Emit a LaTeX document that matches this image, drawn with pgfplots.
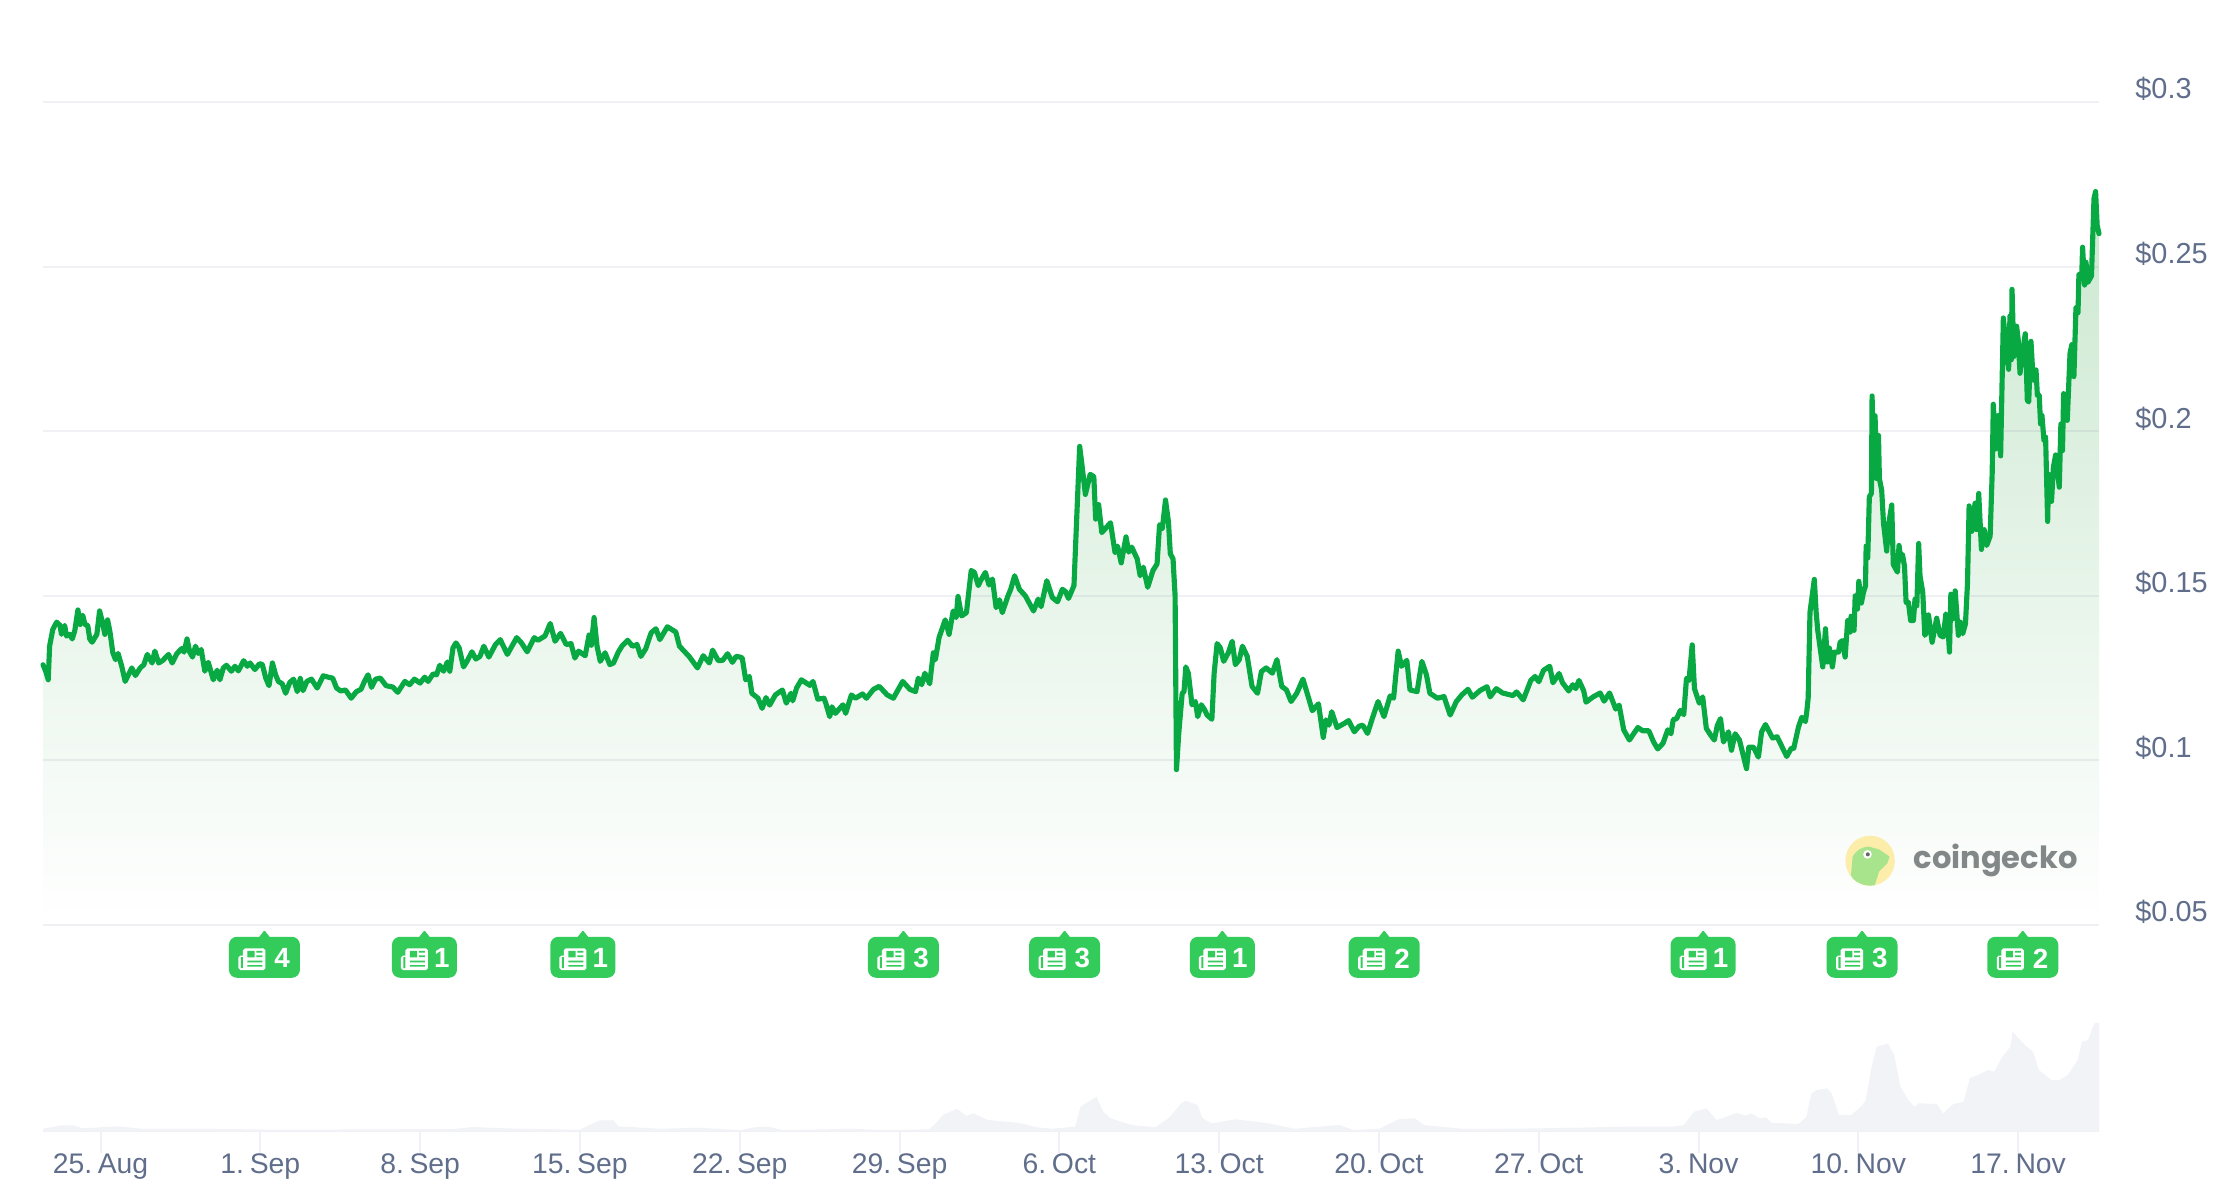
\documentclass[border=0pt]{standalone}
\usepackage{fontspec}
\setmainfont{Liberation Sans}
\newfontfamily\logofont{Poppins}
\usepackage{pgfplots}
\usepackage{pgfplotstable}
\pgfplotsset{compat=1.18}
\definecolor{cgline}{RGB}{8,168,67}
\definecolor{cgtop}{RGB}{203,232,208}
\definecolor{cggrid}{RGB}{90,90,140}
\definecolor{cggridsolid}{RGB}{240,240,246}
\definecolor{cgvol}{RGB}{241,243,247}
\definecolor{cgtext}{RGB}{96,110,140}
\definecolor{cgbadge}{RGB}{51,204,91}
\definecolor{cgyellow}{RGB}{253,237,170}
\definecolor{cggecko}{RGB}{168,228,140}
\definecolor{cglogo}{RGB}{130,135,135}
\def\newsicon{%
  \pgfsetfillcolor{white}%
  \pgfsetcornersarced{\pgfpoint{0.7pt}{0.7pt}}%
  \pgfpathrectangle{\pgfpoint{-7.74pt}{-4.6pt}}{\pgfpoint{8.1pt}{7.8pt}}%
  \pgfpathrectangle{\pgfpoint{-9.36pt}{-4.6pt}}{\pgfpoint{3pt}{5.2pt}}%
  \pgfusepath{fill}%
  \pgfsetcornersarced{\pgfpointorigin}%
  \pgfsetfillcolor{cgbadge}%
  \pgfpathrectangle{\pgfpoint{-8.5pt}{-3.9pt}}{\pgfpoint{0.75pt}{4pt}}%
  \pgfpathrectangle{\pgfpoint{-6.12pt}{0pt}}{\pgfpoint{2.6pt}{2.34pt}}%
  \pgfpathrectangle{\pgfpoint{-2.88pt}{1.7pt}}{\pgfpoint{2.16pt}{0.6pt}}%
  \pgfpathrectangle{\pgfpoint{-2.88pt}{0.1pt}}{\pgfpoint{2.16pt}{0.6pt}}%
  \pgfpathrectangle{\pgfpoint{-6.12pt}{-1.8pt}}{\pgfpoint{5.4pt}{0.6pt}}%
  \pgfpathrectangle{\pgfpoint{-6.12pt}{-3.4pt}}{\pgfpoint{5.4pt}{0.6pt}}%
  \pgfusepath{fill}%
}
\def\newsnotch{%
  \pgfpathmoveto{\pgfpoint{-1.9pt}{7.3pt}}%
  \pgfpathlineto{\pgfpoint{-0.25pt}{9.4pt}}%
  \pgfpathlineto{\pgfpoint{0.25pt}{9.4pt}}%
  \pgfpathlineto{\pgfpoint{1.9pt}{7.3pt}}%
  \pgfpathclose
  \pgfusepath{fill}%
}
\pgfdeclareplotmark{newswide}{%
  \pgfsetfillcolor{cgbadge}%
  \newsnotch
  \pgfsetcornersarced{\pgfpoint{2.9pt}{2.9pt}}%
  \pgfpathrectangle{\pgfpoint{-12.78pt}{-7.38pt}}{\pgfpoint{25.56pt}{14.76pt}}%
  \pgfusepath{fill}%
  \newsicon
}
\pgfdeclareplotmark{newsnarrow}{%
  \pgfsetfillcolor{cgbadge}%
  \newsnotch
  \pgfsetcornersarced{\pgfpoint{2.9pt}{2.9pt}}%
  \pgfpathrectangle{\pgfpoint{-11.7pt}{-7.38pt}}{\pgfpoint{23.4pt}{14.76pt}}%
  \pgfusepath{fill}%
  \pgftransformxshift{0.9pt}%
  \newsicon
}
% day 0 = 25 Aug; price in USD
\pgfplotstableread{
day price
-2.52 .1291
-2.40 .1271
-2.29 .1245
-2.23 .1347
-2.09 .1398
-1.92 .1420
-1.77 .1410
-1.71 .1383
-1.57 .1410
-1.49 .1378
-1.34 .1383
-1.24 .1369
-1.13 .1393
-0.99 .1457
-0.89 .1413
-0.78 .1441
-0.68 .1413
-0.56 .1410
-0.47 .1369
-0.37 .1359
-0.16 .1383
-0.04 .1454
0.09 .1418
0.19 .1383
0.31 .1427
0.42 .1388
0.54 .1327
0.66 .1306
0.77 .1325
0.93 .1286
1.08 .1240
1.22 .1260
1.37 .1281
1.53 .1258
1.74 .1281
1.90 .1291
2.05 .1322
2.26 .1296
2.38 .1332
2.55 .1296
2.73 .1304
2.98 .1322
3.14 .1296
3.35 .1325
3.56 .1340
3.66 .1329
3.79 .1369
3.91 .1329
4.03 .1314
4.16 .1347
4.28 .1325
4.41 .1337
4.57 .1271
4.72 .1298
4.94 .1245
5.11 .1274
5.23 .1245
5.38 .1281
5.52 .1289
5.73 .1271
5.89 .1286
6.04 .1272
6.27 .1303
6.43 .1286
6.55 .1296
6.76 .1276
6.97 .1294
7.09 .1291
7.24 .1250
7.38 .1227
7.53 .1296
7.67 .1260
7.79 .1240
7.96 .1233
8.11 .1204
8.29 .1237
8.46 .1247
8.62 .1209
8.75 .1249
8.87 .1212
9.04 .1240
9.24 .1247
9.49 .1220
9.76 .1257
9.97 .1253
10.17 .1250
10.34 .1220
10.52 .1211
10.73 .1214
10.98 .1189
11.21 .1209
11.41 .1216
11.56 .1240
11.72 .1260
11.87 .1222
12.05 .1247
12.26 .1250
12.51 .1227
12.80 .1223
13.02 .1207
13.33 .1240
13.54 .1230
13.75 .1247
14.00 .1235
14.20 .1253
14.35 .1240
14.57 .1263
14.72 .1260
14.86 .1289
15.03 .1271
15.19 .1299
15.30 .1271
15.44 .1342
15.57 .1357
15.71 .1342
15.90 .1284
16.06 .1302
16.27 .1330
16.44 .1308
16.62 .1316
16.79 .1347
17.01 .1314
17.30 .1352
17.51 .1367
17.82 .1322
18.23 .1373
18.44 .1357
18.69 .1330
19.00 .1373
19.16 .1365
19.47 .1378
19.70 .1416
19.91 .1362
20.15 .1386
20.40 .1352
20.61 .1355
20.78 .1311
20.94 .1332
21.23 .1318
21.40 .1381
21.50 .1350
21.62 .1434
21.75 .1347
21.89 .1301
22.10 .1327
22.31 .1291
22.47 .1296
22.68 .1329
22.84 .1347
23.09 .1365
23.30 .1347
23.50 .1352
23.67 .1316
23.88 .1339
24.12 .1388
24.33 .1400
24.50 .1367
24.83 .1406
25.20 .1390
25.36 .1347
25.78 .1316
26.15 .1281
26.40 .1318
26.67 .1296
26.81 .1335
27.06 .1303
27.25 .1304
27.47 .1324
27.68 .1298
27.84 .1316
28.01 .1314
28.11 .1311
28.26 .1245
28.42 .1255
28.53 .1204
28.80 .1189
28.98 .1158
29.15 .1191
29.31 .1168
29.56 .1199
29.87 .1214
30.04 .1174
30.24 .1204
30.32 .1181
30.49 .1220
30.70 .1245
31.07 .1228
31.21 .1240
31.42 .1186
31.69 .1189
31.77 .1174
31.94 .1133
32.04 .1163
32.19 .1143
32.52 .1169
32.64 .1143
32.89 .1199
33.07 .1189
33.38 .1202
33.55 .1189
33.86 .1216
34.11 .1225
34.46 .1199
34.73 .1189
35.14 .1240
35.45 .1216
35.70 .1209
35.82 .1250
35.97 .1230
36.11 .1265
36.32 .1233
36.48 .1327
36.57 .1306
36.73 .1373
37.00 .1427
37.17 .1383
37.35 .1454
37.48 .1434
37.56 .1498
37.72 .1439
37.93 .1449
38.14 .1577
38.28 .1571
38.45 .1531
38.55 .1546
38.76 .1571
38.92 .1533
39.07 .1551
39.23 .1464
39.38 .1488
39.50 .1449
39.75 .1500
39.87 .1520
40.04 .1561
40.25 .1520
40.51 .1500
40.87 .1454
41.07 .1490
41.20 .1467
41.45 .1546
41.69 .1495
41.92 .1482
42.13 .1520
42.27 .1513
42.40 .1492
42.64 .1531
42.75 .1719
42.89 .1954
42.99 .1898
43.14 .1808
43.35 .1869
43.51 .1862
43.59 .1733
43.72 .1777
43.86 .1692
44.24 .1722
44.44 .1631
44.55 .1651
44.71 .1600
44.92 .1679
45.04 .1633
45.17 .1648
45.41 .1612
45.54 .1561
45.68 .1587
45.87 .1526
46.10 .1577
46.28 .1597
46.39 .1716
46.51 .1704
46.65 .1791
46.78 .1724
46.86 .1628
46.98 .1612
47.07 .1500
47.13 .0972
47.23 .1082
47.38 .1204
47.46 .1209
47.54 .1284
47.65 .1265
47.81 .1169
47.96 .1179
48.06 .1133
48.22 .1169
48.37 .1153
48.47 .1138
48.68 .1125
48.78 .1265
48.91 .1355
49.05 .1342
49.20 .1301
49.40 .1327
49.57 .1362
49.71 .1291
49.88 .1306
50.02 .1347
50.23 .1316
50.44 .1225
50.68 .1204
50.85 .1270
51.06 .1281
51.33 .1265
51.53 .1306
51.74 .1225
51.95 .1214
52.15 .1179
52.40 .1204
52.50 .1220
52.67 .1247
52.92 .1189
53.08 .1151
53.35 .1172
53.56 .1070
53.68 .1123
53.81 .1107
53.93 .1148
54.16 .1100
54.47 .1112
54.67 .1121
54.92 .1087
55.13 .1104
55.29 .1107
55.50 .1082
55.71 .1128
55.96 .1179
56.22 .1133
56.49 .1196
56.64 .1189
56.84 .1332
56.99 .1286
57.22 .1304
57.36 .1214
57.67 .1209
57.88 .1301
58.08 .1260
58.23 .1204
58.56 .1189
58.85 .1194
59.12 .1138
59.39 .1179
59.63 .1199
59.90 .1216
60.09 .1192
60.42 .1212
60.73 .1224
60.87 .1193
61.14 .1218
61.41 .1205
61.87 .1197
62.03 .1208
62.32 .1184
62.65 .1243
62.84 .1255
63.00 .1239
63.21 .1274
63.48 .1286
63.62 .1236
63.89 .1264
64.04 .1236
64.31 .1211
64.49 .1230
64.62 .1218
64.76 .1243
64.97 .1211
65.07 .1177
65.38 .1193
65.69 .1205
65.86 .1180
66.10 .1205
66.37 .1156
66.52 .1168
66.72 .1093
66.97 .1062
67.34 .1100
67.55 .1090
67.82 .1090
68.03 .1056
68.21 .1035
68.44 .1052
68.65 .1093
68.79 .1081
68.89 .1124
69.04 .1127
69.20 .1152
69.35 .1139
69.47 .1249
69.58 .1243
69.72 .1351
69.82 .1218
70.03 .1174
70.18 .1193
70.34 .1097
70.55 .1075
70.69 .1062
70.82 .1106
70.96 .1127
71.09 .1056
71.31 .1087
71.44 .1031
71.60 .1081
71.79 .1062
72.10 .0975
72.20 .1040
72.41 .1040
72.62 .1010
72.76 .1087
72.93 .1109
73.24 .1068
73.44 .1072
73.86 .1012
74.06 .1037
74.17 .1037
74.37 .1100
74.52 .1131
74.68 .1118
74.74 .1149
74.80 .1189
74.88 .1450
75.07 .1550
75.15 .1450
75.22 .1395
75.35 .1329
75.44 .1284
75.56 .1400
75.64 .1299
75.73 .1341
75.86 .1284
75.95 .1329
76.13 .1329
76.20 .1359
76.30 .1364
76.42 .1314
76.53 .1425
76.64 .1390
76.68 .1438
76.81 .1395
76.86 .1500
76.96 .1460
77.02 .1544
77.13 .1478
77.22 .1510
77.31 .1530
77.34 .1651
77.41 .1615
77.48 .1801
77.57 .1811
77.60 .2107
77.67 .1887
77.73 .2047
77.80 .1856
77.88 .1987
77.92 .1856
78.02 .1821
78.10 .1721
78.24 .1636
78.32 .1716
78.46 .1776
78.53 .1595
78.71 .1572
78.78 .1653
78.86 .1610
78.93 .1626
79.02 .1590
79.09 .1480
79.19 .1480
79.29 .1425
79.41 .1425
79.48 .1490
79.56 .1470
79.64 .1659
79.70 .1560
79.82 .1510
79.91 .1380
79.99 .1390
80.07 .1442
80.23 .1359
80.43 .1432
80.58 .1380
80.72 .1375
80.83 .1445
80.90 .1432
80.99 .1329
81.05 .1505
81.13 .1430
81.24 .1515
81.38 .1380
81.47 .1420
81.57 .1385
81.69 .1415
81.78 .1540
81.85 .1773
81.97 .1696
82.11 .1781
82.18 .1701
82.27 .1811
82.39 .1641
82.51 .1701
82.62 .1653
82.77 .1681
82.86 .1871
82.91 .2082
83.01 .1946
83.14 .2048
83.23 .1925
83.35 .2344
83.49 .2237
83.58 .2188
83.64 .2350
83.70 .2217
83.73 .2431
83.81 .2227
83.93 .2319
84.00 .2278
84.08 .2176
84.16 .2227
84.31 .2296
84.40 .2094
84.46 .2089
84.56 .2273
84.63 .2186
84.69 .2155
84.78 .2186
84.84 .2109
84.92 .2109
84.98 .2022
85.04 .2048
85.13 .1971
85.20 .1982
85.29 .1726
85.33 .1869
85.46 .1787
85.54 .1890
85.64 .1928
85.80 .1830
85.87 .2022
85.94 .1941
85.99 .2114
86.15 .2033
86.27 .2237
86.35 .2263
86.44 .2166
86.53 .2375
86.62 .2360
86.66 .2477
86.78 .2462
86.82 .2559
86.91 .2444
86.97 .2513
87.05 .2452
87.21 .2472
87.32 .2707
87.39 .2728
87.46 .2625
87.54 .2600
}\pricetable
% volume, relative scale
\pgfplotstableread{
day vol
-2.52 2.3
-1.71 5.7
-1.20 5.7
-0.78 2.7
0.77 4.7
1.80 2.3
5.52 2.0
8.00 1.3
15.44 2.0
16.27 4.0
18.30 2.3
21.00 1.3
21.54 7.3
21.85 10.7
22.47 10.7
22.68 4.7
24.54 2.3
26.20 3.3
28.01 1.0
28.63 3.7
29.25 4.3
29.87 1.0
31.73 1.7
32.97 2.3
34.21 1.0
36.28 1.7
36.59 7.7
36.90 16.0
37.52 22.3
37.93 15.0
38.24 17.7
38.86 11.0
40.20 8.3
41.03 3.7
41.65 2.3
42.69 4.3
42.93 24.3
43.62 34.3
43.93 19.3
44.24 12.7
45.17 6.0
46.20 3.7
46.82 13.7
47.34 27.7
47.54 30.3
48.06 26.0
48.27 12.7
48.68 7.7
49.71 11.7
51.16 7.7
52.30 2.3
54.26 6.0
54.88 1.0
56.02 2.3
56.84 11.7
57.57 12.7
57.98 6.0
59.63 2.3
60.42 2.0
63.10 2.7
66.68 4.3
68.82 4.3
69.36 6.0
69.81 19.3
70.34 22.7
70.79 11.0
71.15 13.7
71.68 18.3
72.04 15.3
72.31 17.7
72.67 12.7
72.94 13.7
73.20 8.3
74.37 7.0
74.72 14.3
74.94 37.7
75.17 41.0
75.62 42.7
75.83 37.7
76.15 16.0
76.69 16.0
77.14 25.0
77.32 31.0
77.58 64.3
77.80 84.3
78.30 87.7
78.57 76.0
78.84 44.3
79.19 31.0
79.46 24.3
79.64 27.7
80.44 27.0
80.71 17.7
81.16 27.0
81.61 29.3
81.88 52.7
82.23 56.0
82.68 61.0
82.95 59.3
83.31 74.3
83.66 84.3
83.75 99.3
84.29 86.0
84.65 79.3
84.91 61.0
85.45 51.0
85.81 51.0
86.17 56.0
86.61 71.0
86.79 89.3
87.06 91.0
87.33 107.7
87.54 108.3
}\voltable
\begin{document}
\begin{tikzpicture}
\path[use as bounding box] (0pt,0pt) rectangle (799.2pt,-432pt);
% volume panel
\begin{axis}[
  at={(15.48pt,-407.16pt)}, anchor=south west,
  scale only axis, width=740.16pt, height=47.16pt,
  xmin=-2.519, xmax=87.54, ymin=0, ymax=131,
  axis y line=none, axis x line=bottom,
  axis line style={draw=cggridsolid, line width=0.72pt, -},
  xtick={0,7,14,21,28,35,42,49,56,63,70,77,84},
  xticklabels={25.\hspace{0.2em}Aug,1.\hspace{0.2em}Sep,8.\hspace{0.2em}Sep,15.\hspace{0.2em}Sep,22.\hspace{0.2em}Sep,29.\hspace{0.2em}Sep,6.\hspace{0.2em}Oct,13.\hspace{0.2em}Oct,20.\hspace{0.2em}Oct,27.\hspace{0.2em}Oct,3.\hspace{0.2em}Nov,10.\hspace{0.2em}Nov,17.\hspace{0.2em}Nov},
  major tick length=7.9pt, tick align=outside,
  x tick style={draw=cggridsolid, line width=0.72pt},
  xticklabel style={font=\fontsize{10.2}{12}\selectfont, text=cgtext, inner sep=0pt, yshift=-0.2pt},
]
\addplot[draw=none, fill=cgvol] table[x=day,y=vol] {\voltable} \closedcycle;
\end{axis}
% price panel
\begin{axis}[
  at={(15.48pt,-333pt)}, anchor=south west,
  scale only axis, width=740.16pt, height=296.28pt,
  xmin=-2.519, xmax=87.54, ymin=0.05, ymax=0.30,
  clip=false,
  xtick=\empty,
  ytick={0.05,0.1,0.15,0.2,0.25,0.3},
  yticklabels={\$0.05,\$0.1,\$0.15,\$0.2,\$0.25,\$0.3},
  yticklabel pos=right,
  axis line style={draw=none},
  major tick length=0pt, tick style={draw=none},
  yticklabel style={font=\fontsize{10.4}{12}\selectfont, text=cgtext, anchor=west, inner sep=0pt, xshift=12.9pt, yshift=4.6pt},
]
\addplot[draw=none, top color=cgtop, bottom color=white] table[x=day,y=price] {\pricetable} -- (axis cs:87.54,0.05) -- (axis cs:-2.519,0.05) -- cycle;
\addplot[cggrid, opacity=0.09, line width=0.72pt] coordinates {(-2.519,0.05) (87.54,0.05)};
\addplot[cggrid, opacity=0.09, line width=0.72pt] coordinates {(-2.519,0.10) (87.54,0.10)};
\addplot[cggrid, opacity=0.09, line width=0.72pt] coordinates {(-2.519,0.15) (87.54,0.15)};
\addplot[cggrid, opacity=0.09, line width=0.72pt] coordinates {(-2.519,0.20) (87.54,0.20)};
\addplot[cggrid, opacity=0.09, line width=0.72pt] coordinates {(-2.519,0.25) (87.54,0.25)};
\addplot[cggrid, opacity=0.09, line width=0.72pt] coordinates {(-2.519,0.30) (87.54,0.30)};
\addplot[cgline, line width=1.85pt, line join=round, line cap=round] table[x=day,y=price] {\pricetable};
% news badges
\addplot[only marks, mark=newswide, point meta=explicit symbolic, nodes near coords,
  every node near coord/.style={anchor=center, xshift=6.4pt, yshift=-0.4pt, inner sep=0pt, text=white, font=\fontsize{10}{12}\selectfont\bfseries}]
  table[x=d,y=y,meta=n] {
d y n
7.18 .0402 4
35.17 .0402 3
42.23 .0402 3
56.23 .0402 2
77.16 .0402 3
84.20 .0402 2
};
\addplot[only marks, mark=newsnarrow, point meta=explicit symbolic, nodes near coords,
  every node near coord/.style={anchor=center, xshift=5.4pt, yshift=-0.4pt, inner sep=0pt, text=white, font=\fontsize{10}{12}\selectfont\bfseries}]
  table[x=d,y=y,meta=n] {
d y n
14.19 .0402 1
21.13 .0402 1
49.14 .0402 1
70.20 .0402 1
};
\end{axis}
% coingecko logo, in zoomed pixel units
\begin{scope}[shift={(640.8pt,-288pt)}, x=0.1188pt, y=-0.12pt]
\fill[cgyellow] (273,182) circle [x radius=75, y radius=75];
\begin{scope}
\clip (273,182) circle [x radius=75, y radius=75];
\fill[cggecko] (235,262) -- (215,225) -- (220,170) to[out=60,in=180] (270,140) -- (300,148) -- (332,170) -- (325,190) -- (300,215) -- (285,262) -- cycle;
\end{scope}
\fill[white] (265,163) circle [x radius=13, y radius=13];
\fill[black!60] (266,163) circle [x radius=6, y radius=6];
\node[anchor=west, inner sep=0pt, text=cglogo, font=\logofont\bfseries\fontsize{11}{12}\selectfont] at (403,182) {coingecko};
\end{scope}
\end{tikzpicture}
\end{document}
